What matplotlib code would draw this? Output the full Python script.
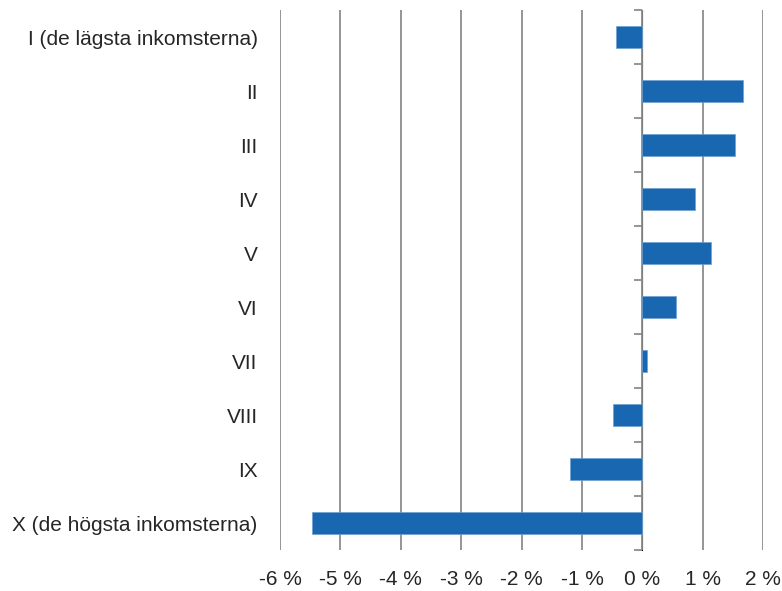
import numpy as np
import matplotlib.pyplot as plt

plt.rcParams['font.family'] = ['Liberation Sans', 'DejaVu Sans']

# data
categories = ["I (de lägsta inkomsterna)", "II", "III", "IV", "V", "VI", "VII", "VIII", "IX",
              "X (de högsta inkomsterna)"]
values = [-0.43, 1.67, 1.53, 0.87, 1.13, 0.56, 0.08, -0.49, -1.20, -5.47]
xticks = [-6, -5, -4, -3, -2, -1, 0, 1, 2]

fig = plt.figure(figsize=(7.82, 5.91), dpi=100)
ax = fig.add_axes([0.358, 0.069, 0.618, 0.914])

pos = np.arange(len(categories))
ax.barh(pos, values, height=0.4, color='#1967b0', edgecolor='#6fa0d0', linewidth=0.5, zorder=3)

ax.set_xlim(-6, 2)
ax.set_ylim(len(categories) - 0.5, -0.5)

ax.set_xticks(xticks)
ax.set_xticklabels([f"{t} %" for t in xticks])
ax.set_yticks(pos)
ax.set_yticklabels(categories)
ax.tick_params(axis='both', length=0, labelsize=15, colors='#262626')
ax.tick_params(axis='x', pad=14)
ax.tick_params(axis='y', pad=16)

ax.grid(axis='x', color='#8c8c8c', linewidth=1.3, zorder=0)
for s in ax.spines.values():
    s.set_visible(False)

# vertical axis line at 0 with category tick marks
sec = ax.secondary_yaxis(0.75)
sec.spines['left'].set_color('#8c8c8c')
sec.spines['left'].set_linewidth(1.3)
sec.set_yticks(np.arange(len(categories) + 1) - 0.5)
sec.set_yticklabels([])
sec.tick_params(axis='y', direction='in', length=6, width=1.3, color='#8c8c8c')

fig.savefig("out.png", dpi=100)
